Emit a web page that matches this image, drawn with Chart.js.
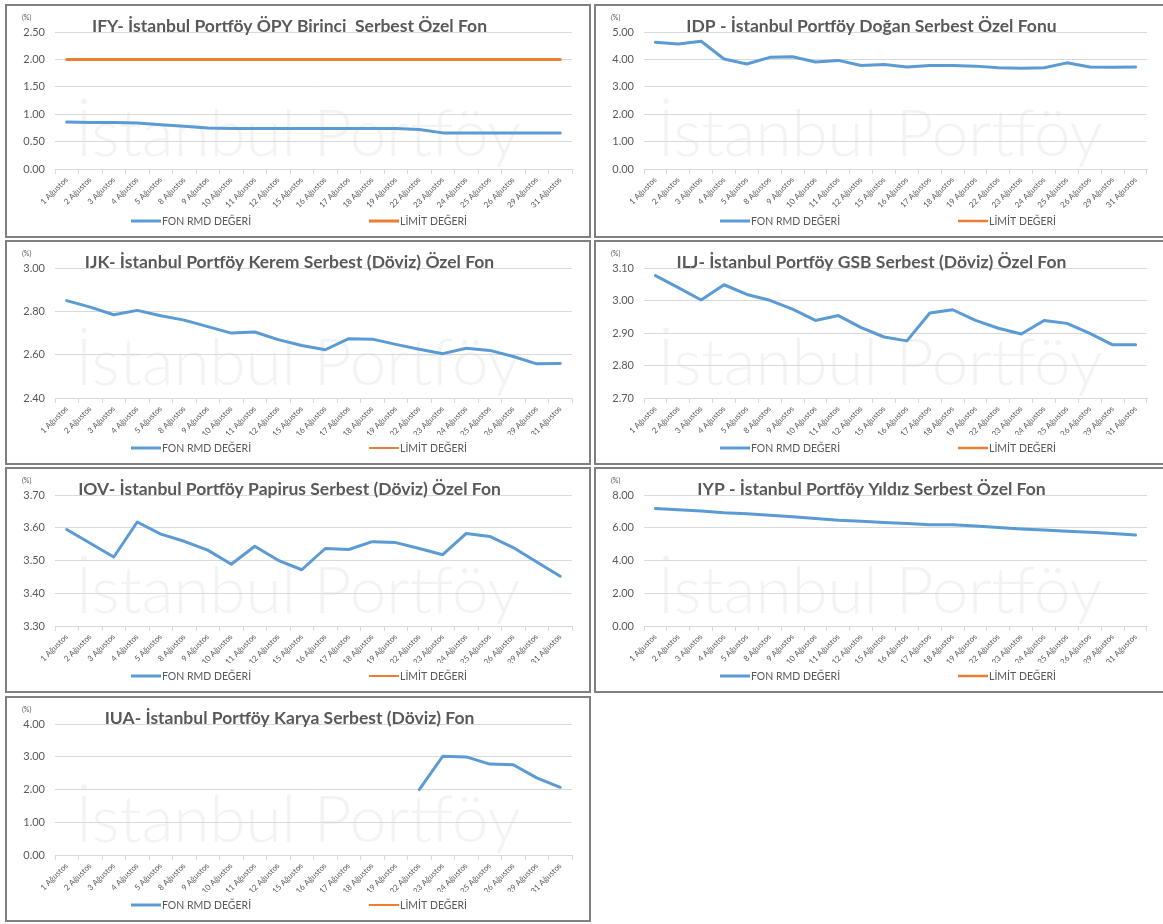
<!DOCTYPE html>
<html>
<head>
<meta charset="utf-8">
<script src="https://cdn.jsdelivr.net/npm/chart.js@4.4.1/dist/chart.umd.min.js"></script>
<style>
    body { margin: 0; background: #fff; width: 1163px; height: 924px; position: relative; overflow: hidden; }
    .panel { position: absolute; border: 2px solid #808080; background: #fff; }
    .panel canvas { display: block; }
</style>
</head>
<body>
<div class="panel" style="left:5px;top:4px;"><canvas id="c1" width="582" height="230"></canvas></div>
<div class="panel" style="left:594px;top:4px;"><canvas id="c2" width="568" height="230"></canvas></div>
<div class="panel" style="left:5px;top:240px;"><canvas id="c3" width="582" height="221"></canvas></div>
<div class="panel" style="left:594px;top:240px;"><canvas id="c4" width="568" height="221"></canvas></div>
<div class="panel" style="left:5px;top:467px;"><canvas id="c5" width="582" height="222"></canvas></div>
<div class="panel" style="left:594px;top:467px;"><canvas id="c6" width="568" height="222"></canvas></div>
<div class="panel" style="left:5px;top:696px;"><canvas id="c7" width="582" height="222"></canvas></div>

<script>
// Trading days of August
const days = ['1 Ağustos', '2 Ağustos', '3 Ağustos', '4 Ağustos', '5 Ağustos', '8 Ağustos', '9 Ağustos',
    '10 Ağustos', '11 Ağustos', '12 Ağustos', '15 Ağustos', '16 Ağustos', '17 Ağustos', '18 Ağustos',
    '19 Ağustos', '22 Ağustos', '23 Ağustos', '24 Ağustos', '25 Ağustos', '26 Ağustos', '29 Ağustos', '31 Ağustos'];

// FON RMD DEĞERİ per fund (%)
const ifyRmd = [0.86, 0.85, 0.85, 0.84, 0.81, 0.78, 0.75, 0.74, 0.74, 0.74, 0.74, 0.74, 0.74, 0.74, 0.74, 0.72, 0.66, 0.66, 0.66, 0.66, 0.66, 0.66];
const ifyLimit = [2, 2, 2, 2, 2, 2, 2, 2, 2, 2, 2, 2, 2, 2, 2, 2, 2, 2, 2, 2, 2, 2];
const idpRmd = [4.63, 4.57, 4.67, 4.02, 3.84, 4.08, 4.10, 3.91, 3.97, 3.78, 3.82, 3.73, 3.78, 3.78, 3.76, 3.70, 3.68, 3.70, 3.88, 3.73, 3.72, 3.73];
const ijkRmd = [2.85, 2.82, 2.785, 2.805, 2.78, 2.76, 2.73, 2.70, 2.705, 2.67, 2.643, 2.623, 2.674, 2.672, 2.648, 2.625, 2.605, 2.63, 2.62, 2.592, 2.558, 2.56];
const iljRmd = [3.077, 3.040, 3.002, 3.049, 3.019, 3.001, 2.974, 2.939, 2.954, 2.917, 2.888, 2.876, 2.962, 2.972, 2.939, 2.915, 2.897, 2.939, 2.930, 2.899, 2.864, 2.864];
const iovRmd = [3.595, 3.553, 3.511, 3.618, 3.581, 3.559, 3.532, 3.489, 3.544, 3.501, 3.472, 3.537, 3.534, 3.558, 3.555, 3.537, 3.518, 3.583, 3.574, 3.540, 3.496, 3.452];
const iypRmd = [7.19, 7.11, 7.03, 6.93, 6.87, 6.78, 6.68, 6.58, 6.47, 6.41, 6.33, 6.27, 6.19, 6.19, 6.12, 6.02, 5.94, 5.87, 5.80, 5.74, 5.66, 5.56];
const iuaRmd = [null, null, null, null, null, null, null, null, null, null, null, null, null, null, null, 2.00, 3.02, 3.00, 2.78, 2.76, 2.36, 2.07];

// y axis tick labels per chart
const ifyTicks = [0, 0.5, 1, 1.5, 2, 2.5];
const idpTicks = [0, 1, 2, 3, 4, 5];
const ijkTicks = [2.4, 2.6, 2.8, 3.0];
const iljTicks = [2.7, 2.8, 2.9, 3.0, 3.1];
const iovTicks = [3.3, 3.4, 3.5, 3.6, 3.7];
const iypTicks = [0, 2, 4, 6, 8];
const iuaTicks = [0, 1, 2, 3, 4];

const BLUE = '#5b9bd5';
const ORANGE = '#ed7d31';
const TEXT = '#595959';
const FONT = 'Lato';

// faded company name behind each plot
const watermarkPlugin = {
    id: 'watermark',
    beforeDraw(chart) {
        const { ctx, chartArea } = chart;
        const text = 'İstanbul Portföy';
        ctx.save();
        ctx.font = '300 100px ' + FONT;
        const size = 100 * 445 / ctx.measureText(text).width;
        ctx.font = '300 ' + size + 'px ' + FONT;
        ctx.fillStyle = '#f3f3f3';
        ctx.textAlign = 'center';
        ctx.textBaseline = 'alphabetic';
        ctx.fillText(text, chart.width / 2, chartArea.bottom - 13);
        ctx.restore();
    }
};

// legend drawn by hand so items sit where Excel put them, plus the "(%)" unit
const legendPlugin = {
    id: 'excelLegend',
    afterDraw(chart) {
        const { ctx } = chart;
        const y = chart.height - 15;
        const xs = [124, 362];
        ctx.save();
        chart.data.datasets.forEach((ds, i) => {
            ctx.strokeStyle = ds.borderColor;
            ctx.lineWidth = ds.borderWidth;
            ctx.beginPath();
            ctx.moveTo(xs[i], y);
            ctx.lineTo(xs[i] + 30, y);
            ctx.stroke();
            ctx.fillStyle = TEXT;
            ctx.font = '10.5px ' + FONT;
            ctx.textBaseline = 'middle';
            ctx.fillText(ds.label, xs[i] + 31, y + 1);
        });
        ctx.font = '7px ' + FONT;
        ctx.fillStyle = TEXT;
        ctx.textBaseline = 'middle';
        ctx.fillText('(%)', 15, 12);
        ctx.restore();
    }
};

function makeChart(id, title, rmd, limit, ticks, limitWidth) {
    const canvas = document.getElementById(id);
    const bottomArea = canvas.height === 230 ? 67 : 65;
    return new Chart(canvas, {
        type: 'line',
        data: {
            labels: days,
            datasets: [
                { label: 'FON RMD DEĞERİ', data: rmd, borderColor: BLUE, backgroundColor: BLUE, borderWidth: 3 },
                { label: 'LİMİT DEĞERİ', data: limit, borderColor: ORANGE, backgroundColor: ORANGE, borderWidth: limitWidth }
            ]
        },
        options: {
            responsive: false,
            animation: false,
            layout: { padding: { left: 0, right: 17, bottom: 28, top: 0 } },
            elements: {
                point: { radius: 0 },
                line: { tension: 0, borderJoinStyle: 'round', borderCapStyle: 'round' }
            },
            plugins: {
                legend: { display: false },
                tooltip: { enabled: false },
                title: {
                    display: true,
                    text: title,
                    color: TEXT,
                    font: { family: FONT, size: 17.5, weight: 'bold' },
                    padding: { top: 10, bottom: -4.8 }
                }
            },
            scales: {
                x: {
                    offset: true,
                    grid: { offset: true, drawOnChartArea: false, drawTicks: true, tickLength: 5, color: '#d9d9d9' },
                    border: { color: '#d9d9d9' },
                    ticks: {
                        autoSkip: false, minRotation: 45, maxRotation: 45, padding: 1,
                        color: TEXT, font: { family: FONT, size: 8 }
                    },
                    afterFit(scale) { scale.height = bottomArea - 28; }
                },
                y: {
                    min: ticks[0],
                    max: ticks[ticks.length - 1],
                    grid: { color: '#d9d9d9', drawTicks: false },
                    border: { display: false },
                    ticks: {
                        padding: 10, color: TEXT, font: { family: FONT, size: 11 },
                        callback: v => v.toFixed(2)
                    },
                    afterBuildTicks(scale) { scale.ticks = ticks.map(v => ({ value: v })); },
                    afterFit(scale) { scale.width = 48; }
                }
            }
        },
        plugins: [watermarkPlugin, legendPlugin]
    });
}

makeChart('c1', 'IFY- İstanbul Portföy ÖPY Birinci  Serbest Özel Fon', ifyRmd, ifyLimit, ifyTicks, 3);
makeChart('c2', 'IDP - İstanbul Portföy Doğan Serbest Özel Fonu', idpRmd, [], idpTicks, 2.5);
makeChart('c3', 'IJK- İstanbul Portföy Kerem Serbest (Döviz) Özel Fon', ijkRmd, [], ijkTicks, 2);
makeChart('c4', 'ILJ- İstanbul Portföy GSB Serbest (Döviz) Özel Fon', iljRmd, [], iljTicks, 2.5);
makeChart('c5', 'IOV- İstanbul Portföy Papirus Serbest (Döviz) Özel Fon', iovRmd, [], iovTicks, 2);
makeChart('c6', 'IYP - İstanbul Portföy Yıldız Serbest Özel Fon', iypRmd, [], iypTicks, 2.5);
makeChart('c7', 'IUA- İstanbul Portföy Karya Serbest (Döviz) Fon', iuaRmd, [], iuaTicks, 2);
</script>
</body>
</html>
